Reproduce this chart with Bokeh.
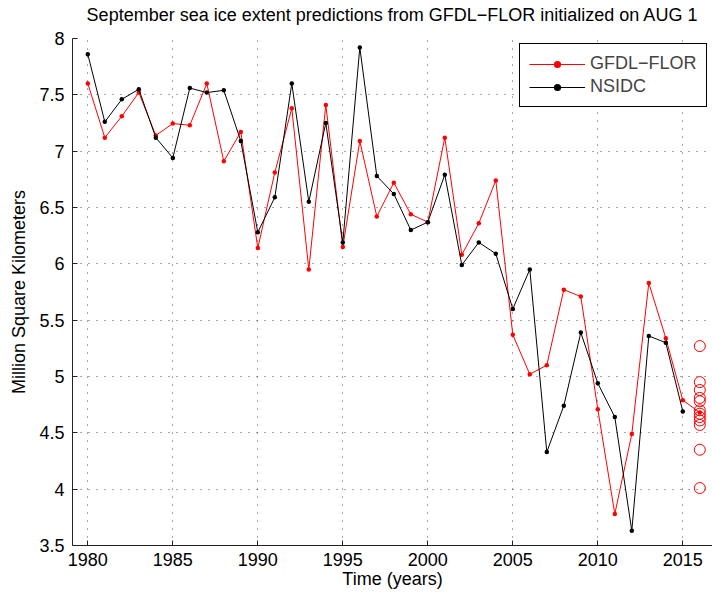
from bokeh.plotting import figure
from bokeh.models import Range1d, FixedTicker, Legend, LegendItem, LinearAxis
from bokeh.embed import file_html
from bokeh.resources import INLINE

# ---- data ----
gfdl_years = list(range(1980, 2017))
gfdl = [7.60, 7.12, 7.31, 7.52, 7.14, 7.245, 7.23, 7.60, 6.91, 7.17,
        6.14, 6.81, 7.38, 5.95, 7.41, 6.15, 7.09, 6.42, 6.72, 6.44,
        6.37, 7.12, 6.08, 6.36, 6.74, 5.37, 5.02, 5.10, 5.77, 5.71,
        4.71, 3.78, 4.49, 5.83, 5.34, 4.79, 4.68]
nsidc_years = list(range(1980, 2016))
nsidc = [7.86, 7.26, 7.46, 7.55, 7.12, 6.94, 7.56, 7.52, 7.54, 7.09,
         6.28, 6.59, 7.60, 6.55, 7.25, 6.19, 7.92, 6.78, 6.62, 6.30,
         6.37, 6.79, 5.99, 6.19, 6.09, 5.60, 5.95, 4.33, 4.74, 5.39,
         4.94, 4.64, 3.63, 5.36, 5.30, 4.69]
ens_year = 2016
ensemble = [5.27, 4.95, 4.88, 4.81, 4.78, 4.70, 4.67, 4.64, 4.61, 4.57, 4.35, 4.01]

x_ticks = [1980, 1985, 1990, 1995, 2000, 2005, 2010, 2015]
x_tick_labels = ["1980", "1985", "1990", "1995", "2000", "2005", "2010", "2015"]
y_ticks = [3.5, 4, 4.5, 5, 5.5, 6, 6.5, 7, 7.5, 8]
y_tick_labels = ["3.5", "4", "4.5", "5", "5.5", "6", "6.5", "7", "7.5", "8"]

title_text = "September sea ice extent predictions from GFDL\u2212FLOR initialized on AUG 1"
x_label = "Time (years)"
y_label = "Million Square Kilometers"
FONT = "Liberation Sans"

p = figure(width=712, height=594, output_backend="svg", toolbar_location=None,
           x_range=Range1d(1979.1, 2016.747), y_range=Range1d(3.5, 8),
           min_border_left=72, min_border_right=0, min_border_top=38, min_border_bottom=49)
p.outline_line_color = None
p.background_fill_color = "white"
p.border_fill_color = "white"

main_x = p.below[0]
main_y = p.left[0]

# title drawn as the label of a bare axis above the plot area
title_axis = LinearAxis(ticker=FixedTicker(ticks=[]), axis_label=title_text)
title_axis.axis_line_color = None
title_axis.major_tick_in = 0
title_axis.major_tick_out = 0
title_axis.minor_tick_in = 0
title_axis.minor_tick_out = 0
title_axis.major_label_standoff = 0
title_axis.major_label_text_font_size = "0px"
title_axis.axis_label_standoff = 14
title_axis.axis_label_text_font = FONT
title_axis.axis_label_text_font_size = "18px"
title_axis.axis_label_text_font_style = "normal"
title_axis.axis_label_text_color = "black"
p.add_layout(title_axis, "above")

main_x.ticker = FixedTicker(ticks=x_ticks)
main_y.ticker = FixedTicker(ticks=y_ticks)
main_x.major_label_overrides = {t: l for t, l in zip(x_ticks, x_tick_labels)}
main_y.major_label_overrides = {t: l for t, l in zip(y_ticks, y_tick_labels)}
for ax in (main_x, main_y):
    ax.major_tick_in = 5
    ax.major_tick_out = 0
    ax.minor_tick_in = 0
    ax.minor_tick_out = 0
    ax.axis_line_color = "#222222"
    ax.major_tick_line_color = "#222222"
    ax.major_label_text_font = FONT
    ax.major_label_text_font_size = "18px"
    ax.major_label_text_color = "black"
    ax.axis_label_text_font = FONT
    ax.axis_label_text_font_size = "18px"
    ax.axis_label_text_font_style = "normal"
    ax.axis_label_text_color = "black"
main_x.axis_label = x_label
main_y.axis_label = y_label
main_x.major_label_standoff = 7
main_x.axis_label_standoff = 0
main_y.major_label_standoff = 8
main_y.axis_label_standoff = 7

for g in (p.xgrid, p.ygrid):
    g.grid_line_color = "black"
    g.grid_line_alpha = 0.7
    g.grid_line_dash = "1 7"
    g.grid_line_width = 1
p.xgrid.ticker = FixedTicker(ticks=x_ticks)
p.ygrid.ticker = FixedTicker(ticks=y_ticks)

r_line = p.line(gfdl_years, gfdl, line_color="#ff0000", line_width=1)
r_dot = p.scatter(gfdl_years, gfdl, size=4.5, fill_color="#ff0000", line_color=None)
b_line = p.line(nsidc_years, nsidc, line_color="black", line_width=1)
b_dot = p.scatter(nsidc_years, nsidc, size=4.5, fill_color="black", line_color=None)
p.scatter([ens_year] * len(ensemble), ensemble, size=11, marker="circle",
          fill_color=None, line_color="#ff0000", line_width=1)

legend = Legend(items=[LegendItem(label="GFDL\u2212FLOR", renderers=[r_line, r_dot]),
                       LegendItem(label="NSIDC", renderers=[b_line, b_dot])],
                location=(447, 438))
legend.border_line_color = "black"
legend.border_line_width = 1
legend.border_line_alpha = 1
legend.background_fill_alpha = 1
legend.label_text_font = FONT
legend.label_text_font_size = "18px"
legend.glyph_width = 56
legend.glyph_height = 18
legend.label_height = 18
legend.label_standoff = 5
legend.spacing = 2
legend.padding = 9
legend.margin = 0
p.add_layout(legend, "center")

open("out.html", "w").write(file_html(p, INLINE))
